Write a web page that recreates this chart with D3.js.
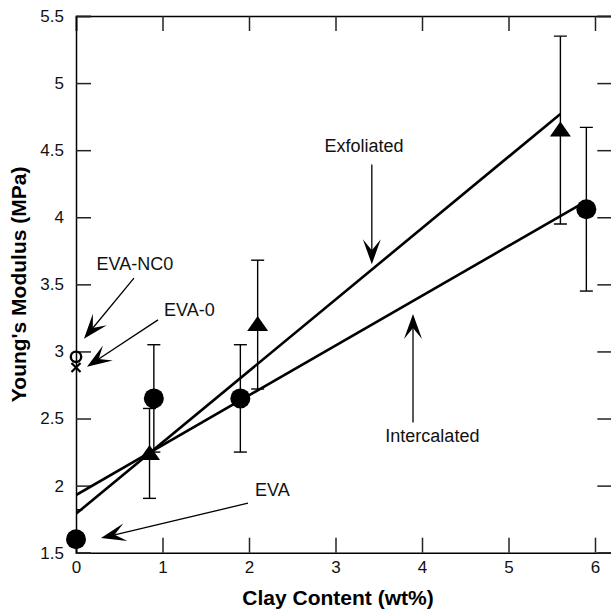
<!DOCTYPE html>
<html>
<head>
<meta charset="utf-8">
<script src="https://cdn.jsdelivr.net/npm/d3@7"></script>
<style>
  html, body { margin: 0; padding: 0; background: #fff; }
  svg { display: block; font-family: "Liberation Sans", Arial, Helvetica, sans-serif; }
</style>
</head>
<body>
<svg id="chart" width="611" height="610"></svg>
<script>
// Filled circles: EVA / intercalated nanocomposites
const circleX   = [0, 0.9, 1.9, 5.9];
const circleY   = [1.6, 2.65, 2.65, 4.06];
const circleErr = [0.22, 0.4, 0.4, 0.61];

// Filled triangles: exfoliated nanocomposites
const triX   = [0.85, 2.1, 5.6];
const triY   = [2.24, 3.2, 4.65];
const triErr = [0.335, 0.48, 0.7];

// Reference samples at zero clay content
const eva0   = [0, 2.88];   // EVA-0 (x marker)
const evaNC0 = [0, 2.96];   // EVA-NC0 (open circle)

// Linear fits
const fitExfoliated   = [[0, 1.79], [5.6, 4.77]];
const fitIntercalated = [[0, 1.93], [5.9, 4.12]];

// Axis ticks
const xTicks = [0, 1, 2, 3, 4, 5, 6];
const yTicks = [1.5, 2, 2.5, 3, 3.5, 4, 4.5, 5, 5.5];
const yTickLabels = ["1.5", "2", "2.5", "3", "3.5", "4", "4.5", "5", "5.5"];

// Callout texts and arrows, in data units
const labels = [
  { text: "Exfoliated",   x: 3.33, y: 4.53 },
  { text: "Intercalated", x: 4.12, y: 2.374 },
  { text: "EVA-NC0",      x: 0.68, y: 3.657 },
  { text: "EVA-0",        x: 1.31, y: 3.31 },
  { text: "EVA",          x: 2.27, y: 1.966 }
];
const arrows = [
  { from: [3.42, 4.393],  to: [3.42, 3.650] },
  { from: [3.896, 2.470], to: [3.896, 3.279] },
  { from: [0.67, 3.547],  to: [0.092, 3.094] },
  { from: [0.948, 3.235], to: [0.127, 2.886] },
  { from: [1.988, 1.869], to: [0.289, 1.609] }
];

const svg = d3.select("#chart");
const pL = 76, pT = 16, pR = 612.3, pB = 552.7;

const x = d3.scaleLinear().domain([0, 6.2]).range([pL, pR]);
const y = d3.scaleLinear().domain([1.5, 5.5]).range([pB, pT]);

svg.append("defs").append("clipPath").attr("id", "plotClip")
  .append("rect").attr("x", pL).attr("y", pT)
  .attr("width", pR - pL).attr("height", pB - pT);

// Axes with inward ticks on all four sides
const tickLen = 15;
const gx = svg.append("g").attr("transform", `translate(0,${pB})`)
  .call(d3.axisBottom(x).tickValues(xTicks).tickSize(-tickLen).tickPadding(8).tickFormat(d3.format("d")));
const gxt = svg.append("g").attr("transform", `translate(0,${pT})`)
  .call(d3.axisTop(x).tickValues(xTicks).tickSize(-tickLen).tickFormat(""));
const gy = svg.append("g").attr("transform", `translate(${pL},0)`)
  .call(d3.axisLeft(y).tickValues(yTicks).tickSize(-tickLen).tickPadding(12)
    .tickFormat((d, i) => yTickLabels[i]));
const gyr = svg.append("g").attr("transform", `translate(${pR},0)`)
  .call(d3.axisRight(y).tickValues(yTicks).tickSize(-tickLen).tickFormat(""));

[gx, gxt, gy, gyr].forEach(g => {
  g.select(".domain").attr("stroke", "#000").attr("stroke-width", 1.5);
  g.selectAll(".tick line").attr("stroke", "#222").attr("stroke-width", 1.5);
  g.selectAll(".tick text").attr("fill", "#111").style("font-size", "17px")
    .style("font-family", "'Liberation Sans', Arial, sans-serif");
});

// Axis titles
svg.append("text")
  .attr("x", 338).attr("y", 605)
  .attr("text-anchor", "middle")
  .style("font-size", "21px").style("font-weight", "bold")
  .text("Clay Content (wt%)");
svg.append("text")
  .attr("transform", `translate(26,${(pT + pB) / 2}) rotate(-90)`)
  .attr("text-anchor", "middle")
  .style("font-size", "21px").style("font-weight", "bold")
  .text("Young's Modulus (MPa)");

const plot = svg.append("g").attr("clip-path", "url(#plotClip)");

// Fit lines
const line = d3.line().x(d => x(d[0])).y(d => y(d[1]));
[fitExfoliated, fitIntercalated].forEach(f => {
  plot.append("path").attr("d", line(f))
    .attr("fill", "none").attr("stroke", "#000").attr("stroke-width", 2.6);
});

// Error bars
const cap = 6.5;
function errorBar(cx, cy, e) {
  const g = plot.append("g").attr("stroke", "#000").attr("stroke-width", 1.4);
  g.append("line").attr("x1", x(cx)).attr("x2", x(cx)).attr("y1", y(cy - e)).attr("y2", y(cy + e));
  [cy - e, cy + e].forEach(v => {
    g.append("line").attr("x1", x(cx) - cap).attr("x2", x(cx) + cap).attr("y1", y(v)).attr("y2", y(v));
  });
}
circleX.forEach((cx, i) => errorBar(cx, circleY[i], circleErr[i]));
triX.forEach((cx, i) => errorBar(cx, triY[i], triErr[i]));

// Markers
const marks = svg.append("g");
circleX.forEach((cx, i) => {
  marks.append("circle").attr("cx", x(cx)).attr("cy", y(circleY[i])).attr("r", 10).attr("fill", "#000");
});
// flat triangle: 21 px wide, 15 px tall
const triPath = "M0,-8.5L10.5,6.5L-10.5,6.5Z";
triX.forEach((cx, i) => {
  marks.append("path").attr("d", triPath)
    .attr("transform", `translate(${x(cx)},${y(triY[i])})`).attr("fill", "#000");
});
marks.append("circle").attr("cx", x(evaNC0[0])).attr("cy", y(evaNC0[1])).attr("r", 5.2)
  .attr("fill", "none").attr("stroke", "#000").attr("stroke-width", 2.4);
const xs = 4.5;
marks.append("path")
  .attr("d", `M${-xs},${-xs}L${xs},${xs}M${-xs},${xs}L${xs},${-xs}`)
  .attr("transform", `translate(${x(eva0[0])},${y(eva0[1])})`)
  .attr("stroke", "#000").attr("stroke-width", 2.2).attr("fill", "none");

// Callout arrows with notched heads
const headL = 25, headW = 9, notch = 14;
arrows.forEach(a => {
  const x1 = x(a.from[0]), y1 = y(a.from[1]);
  const x2 = x(a.to[0]),   y2 = y(a.to[1]);
  const ang = Math.atan2(y2 - y1, x2 - x1);
  const g = svg.append("g").attr("transform", `translate(${x2},${y2}) rotate(${ang * 180 / Math.PI})`);
  const len = Math.hypot(x2 - x1, y2 - y1);
  g.append("line").attr("x1", -len).attr("y1", 0).attr("x2", -notch).attr("y2", 0)
    .attr("stroke", "#000").attr("stroke-width", 1.3);
  g.append("path").attr("d", `M0,0L${-headL},${-headW}L${-notch},0L${-headL},${headW}Z`).attr("fill", "#000");
});

// Callout labels
labels.forEach(l => {
  svg.append("text").attr("x", x(l.x)).attr("y", y(l.y)).attr("dy", "0.35em")
    .attr("text-anchor", "middle").style("font-size", "18px").attr("fill", "#111")
    .text(l.text);
});
</script>
</body>
</html>
